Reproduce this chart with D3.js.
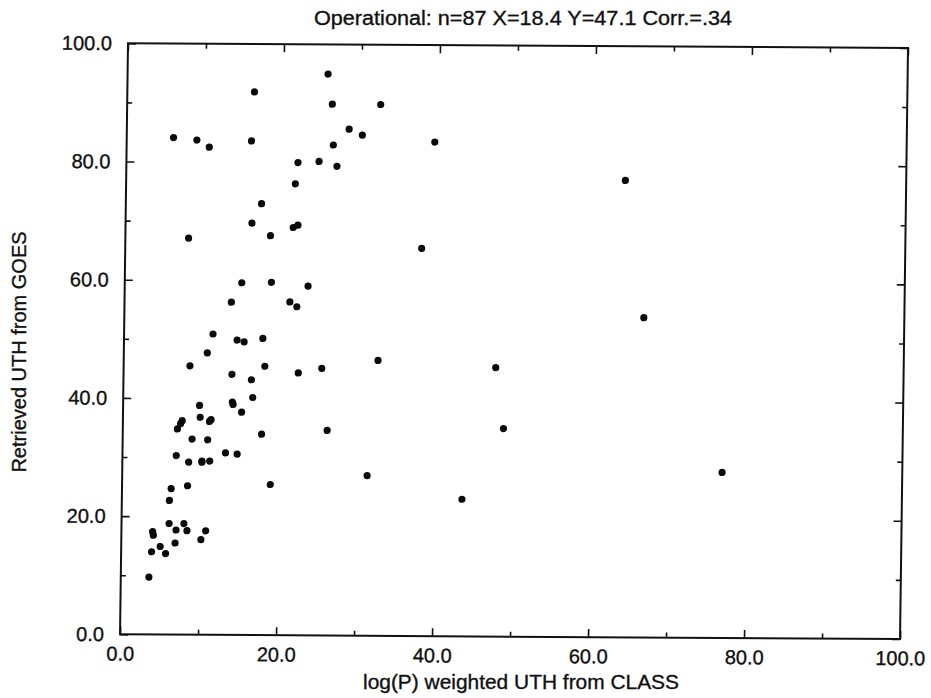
<!DOCTYPE html>
<html>
<head>
<meta charset="utf-8">
<script src="https://cdn.jsdelivr.net/npm/d3@7"></script>
<style>
  html, body { margin: 0; padding: 0; background: #fff; }
  svg { display: block; }
  text { font-family: "Liberation Sans", Arial, Helvetica, sans-serif; fill: #111; stroke: #111; stroke-width: 0.35px; }
</style>
</head>
<body>
<div id="chart"></div>
<script>
// log(P)-weighted UTH from CLASS soundings (x) vs retrieved UTH from GOES (y)
const classUTH = [
  6.0, 9.0, 10.6, 16.0, 16.3, 25.7, 26.3, 32.5, 28.5, 30.2, 26.5, 22.0, 24.7, 27.0, 21.7,
  17.4, 16.2, 18.6, 21.5, 22.1, 8.1, 39.5, 64.0, 38.0, 66.6,
  15.0, 18.8, 23.5, 13.7, 21.2, 22.1, 11.4, 14.5, 15.4, 17.8, 10.7, 8.5, 18.1, 13.9, 22.4,
  25.4, 32.6, 16.4, 16.6, 9.8, 14.0, 14.1, 15.2, 9.9, 7.6, 7.4, 7.0, 11.3, 11.1, 17.8,
  26.2, 8.9, 10.9, 6.9, 13.2, 14.7,
  8.5, 10.2, 10.2, 11.2, 19.0, 31.4, 8.4, 6.3, 6.1, 6.1, 8.0, 7.0, 8.4, 10.8, 10.2,
  6.9, 4.0, 4.1, 3.9, 5.0, 5.7, 3.6,
  47.7, 48.8, 76.9, 43.6
];
const goesUTH = [
  84.1, 83.7, 82.5, 83.6, 91.9, 95.0, 89.9, 89.9, 85.7, 84.7, 83.0, 80.0, 80.2, 79.4, 76.4,
  73.0, 69.7, 67.6, 69.0, 69.4, 67.1, 83.6, 77.3, 65.6, 54.1,
  59.6, 59.7, 59.1, 56.3, 56.4, 55.6, 50.9, 49.9, 49.6, 50.2, 47.7, 45.5, 45.5, 44.1, 44.4,
  45.2, 46.6, 43.2, 40.2, 38.8, 39.4, 39.0, 37.7, 36.8, 36.2, 35.7, 34.8, 36.4, 36.1, 34.0,
  34.7, 33.1, 33.0, 30.3, 30.8, 30.6,
  29.2, 29.4, 29.2, 29.4, 25.5, 27.1, 25.2, 24.7, 22.7, 18.8, 18.8, 17.7, 17.6, 17.6, 16.1,
  15.5, 17.4, 16.8, 14.0, 14.9, 13.7, 9.7,
  45.5, 35.2, 28.0, 23.2
];
const labelTicks = [0, 20, 40, 60, 80, 100];
const minorTicks = [10, 30, 50, 70, 90];
const titleText = "Operational: n=87 X=18.4 Y=47.1 Corr.=.34";
const xTitle = "log(P) weighted UTH from CLASS";
const yTitle = "Retrieved UTH from GOES";

const W = 931, H = 698;
const pw = 780, ph = 591;

const svg = d3.select("#chart").append("svg")
  .attr("width", W).attr("height", H);

svg.append("rect").attr("width", W).attr("height", H).attr("fill", "#fff");

// the plotted page sits slightly skewed on the sheet
const plot = svg.append("g")
  .attr("transform", "matrix(1,0.006,-0.0135,1,128,43.3)");

const x = d3.scaleLinear().domain([0, 100]).range([0, pw]);
const y = d3.scaleLinear().domain([0, 100]).range([ph, 0]);
const fmt = d3.format(".1f");

function tickLayer(axis, tf, size, vals) {
  const g = plot.append("g").attr("transform", tf)
    .call(axis.tickValues(vals).tickSize(size).tickFormat(""));
  g.select(".domain").remove();
  g.selectAll(".tick line").attr("stroke", "#111").attr("stroke-width", 1.6);
  return g;
}

// inward tick marks on all four sides
tickLayer(d3.axisBottom(x), `translate(0,${ph})`, -8, labelTicks);
tickLayer(d3.axisBottom(x), `translate(0,${ph})`, -5, minorTicks);
tickLayer(d3.axisTop(x), "translate(0,0)", -8, labelTicks);
tickLayer(d3.axisTop(x), "translate(0,0)", -5, minorTicks);
tickLayer(d3.axisLeft(y), "translate(0,0)", -8, labelTicks);
tickLayer(d3.axisLeft(y), "translate(0,0)", -5, minorTicks);
tickLayer(d3.axisRight(y), `translate(${pw},0)`, -8, labelTicks);
tickLayer(d3.axisRight(y), `translate(${pw},0)`, -5, minorTicks);

// tick labels
const xLab = plot.append("g").attr("transform", `translate(0,${ph})`)
  .call(d3.axisBottom(x).tickValues(labelTicks).tickSize(0).tickPadding(12).tickFormat(fmt));
xLab.select(".domain").remove();
xLab.selectAll("text").attr("font-size", 20).attr("fill", "#111")
  .style("font-family", "'Liberation Sans', Arial, sans-serif");

const yLab = plot.append("g")
  .call(d3.axisLeft(y).tickValues(labelTicks).tickSize(0).tickPadding(16).tickFormat(fmt));
yLab.select(".domain").remove();
yLab.selectAll("text").attr("font-size", 20).attr("fill", "#111")
  .style("font-family", "'Liberation Sans', Arial, sans-serif");

// frame
plot.append("rect")
  .attr("x", 0).attr("y", 0).attr("width", pw).attr("height", ph)
  .attr("fill", "none").attr("stroke", "#111").attr("stroke-width", 2);

// points
plot.append("g").selectAll("circle")
  .data(d3.range(classUTH.length))
  .join("circle")
  .attr("cx", i => x(classUTH[i]))
  .attr("cy", i => y(goesUTH[i]))
  .attr("r", 3.6)
  .attr("fill", "#0a0a0a");

// titles
svg.append("text")
  .attr("x", 523).attr("y", 25)
  .attr("text-anchor", "middle")
  .attr("font-size", 20)
  .attr("textLength", 418).attr("lengthAdjust", "spacingAndGlyphs")
  .text(titleText);

svg.append("text")
  .attr("x", 521).attr("y", 689)
  .attr("text-anchor", "middle")
  .attr("font-size", 20)
  .attr("textLength", 316).attr("lengthAdjust", "spacingAndGlyphs")
  .text(xTitle);

svg.append("text")
  .attr("transform", "translate(26,352) rotate(-90)")
  .attr("text-anchor", "middle")
  .attr("font-size", 20)
  .text(yTitle);
</script>
</body>
</html>
